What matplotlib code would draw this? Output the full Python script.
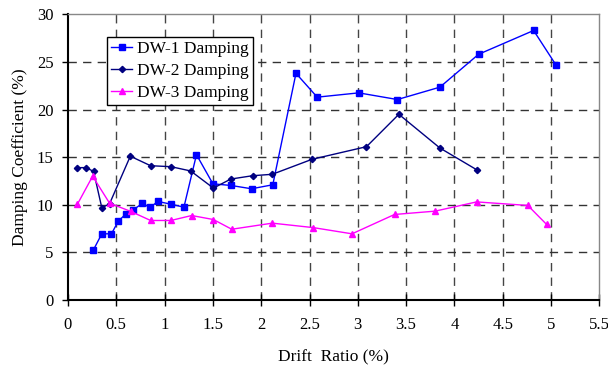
import matplotlib
matplotlib.use("Agg")
import matplotlib.pyplot as plt

plt.rcParams['font.family'] = ['Liberation Serif', 'DejaVu Serif']

dw1_x = [0.26, 0.35, 0.45, 0.52, 0.60, 0.675, 0.77, 0.85, 0.93, 1.065, 1.20, 1.33, 1.50,
         1.685, 1.90, 2.12, 2.36, 2.58, 3.01, 3.41, 3.85, 4.25, 4.82, 5.05]
dw1_y = [5.2, 6.95, 6.95, 8.27, 9.05, 9.47, 10.14, 9.72, 10.35, 10.06, 9.75, 15.26, 12.2,
         12.03, 11.68, 12.1, 23.8, 21.3, 21.75, 21.05, 22.35, 25.8, 28.3, 24.7]

dw2_x = [0.096, 0.186, 0.265, 0.35, 0.43, 0.645, 0.855, 1.065, 1.27, 1.505, 1.685, 1.91,
         2.115, 2.525, 3.09, 3.425, 3.85, 4.23]
dw2_y = [13.9, 13.9, 13.5, 9.68, 10.1, 15.1, 14.1, 14.0, 13.55, 11.75, 12.7, 13.05,
         13.2, 14.77, 16.1, 19.5, 15.96, 13.68]

dw3_x = [0.096, 0.255, 0.43, 0.65, 0.855, 1.065, 1.28, 1.505, 1.695, 2.115, 2.54, 2.94,
         3.38, 3.80, 4.23, 4.76, 4.955]
dw3_y = [10.03, 13.0, 10.17, 9.3, 8.35, 8.35, 8.87, 8.45, 7.43, 8.07, 7.6, 6.95,
         8.98, 9.33, 10.3, 9.93, 7.93]

x_ticks = [0, 0.5, 1, 1.5, 2, 2.5, 3, 3.5, 4, 4.5, 5, 5.5]
x_labels = ['0', '0.5', '1', '1.5', '2', '2.5', '3', '3.5', '4', '4.5', '5', '5.5']
y_ticks = [0, 5, 10, 15, 20, 25, 30]

fig = plt.figure(figsize=(6.08, 3.66), dpi=100)
ax = fig.add_axes([68 / 608, 1 - 300 / 366, (599.3 - 68) / 608, (300 - 14.3) / 366])

ax.plot(dw1_x, dw1_y, color='#0000FF', lw=1.0, marker='s', ms=5, label='DW-1 Damping', zorder=3)
ax.plot(dw2_x, dw2_y, color='#000080', lw=1.0, marker='D', ms=3.2, label='DW-2 Damping', zorder=3)
ax.plot(dw3_x, dw3_y, color='#FF00FF', lw=1.0, marker='^', ms=5, label='DW-3 Damping', zorder=3)

ax.set_xlim(0, 5.5)
ax.set_ylim(0, 30)
ax.set_xticks(x_ticks)
ax.set_xticklabels(x_labels)
ax.set_yticks(y_ticks)

for v in x_ticks[1:-1]:
    ax.axvline(v, color='#444444', lw=1.0, dashes=(6, 4.5), zorder=1)
for v in y_ticks[1:-1]:
    ax.axhline(v, color='#333333', lw=1.0, dashes=(6, 4.5), zorder=1)

ax.spines['left'].set_color('black')
ax.spines['bottom'].set_color('black')
ax.spines['left'].set_linewidth(1.5)
ax.spines['bottom'].set_linewidth(1.5)
ax.spines['top'].set_color('#888888')
ax.spines['right'].set_color('#888888')
ax.spines['top'].set_linewidth(1.0)
ax.spines['right'].set_linewidth(1.0)

ax.tick_params(axis='x', direction='inout', length=9, width=1, labelsize=12, pad=8)
ax.tick_params(axis='y', direction='out', length=4, width=1, labelsize=12, pad=6.5)

fig.text(333 / 608, 1 - 361 / 366, 'Drift  Ratio (%)', fontsize=12.5,
         ha='center', va='baseline')
fig.text(20 / 608, 1 - 157 / 366, 'Damping Coefficient (%)', fontsize=12.5,
         ha='center', va='center', rotation=90)

leg = ax.legend(loc='upper left', bbox_to_anchor=((107 - 68) / 531.3, (300 - 37) / 285.7),
                fontsize=12.5, frameon=True, fancybox=False, edgecolor='black', framealpha=1,
                borderaxespad=0, handlelength=1.2, handletextpad=0.25, labelspacing=0.32,
                borderpad=0.25)
leg.get_frame().set_linewidth(1.0)
leg.set_zorder(5)

fig.savefig('out.png', dpi=100)
